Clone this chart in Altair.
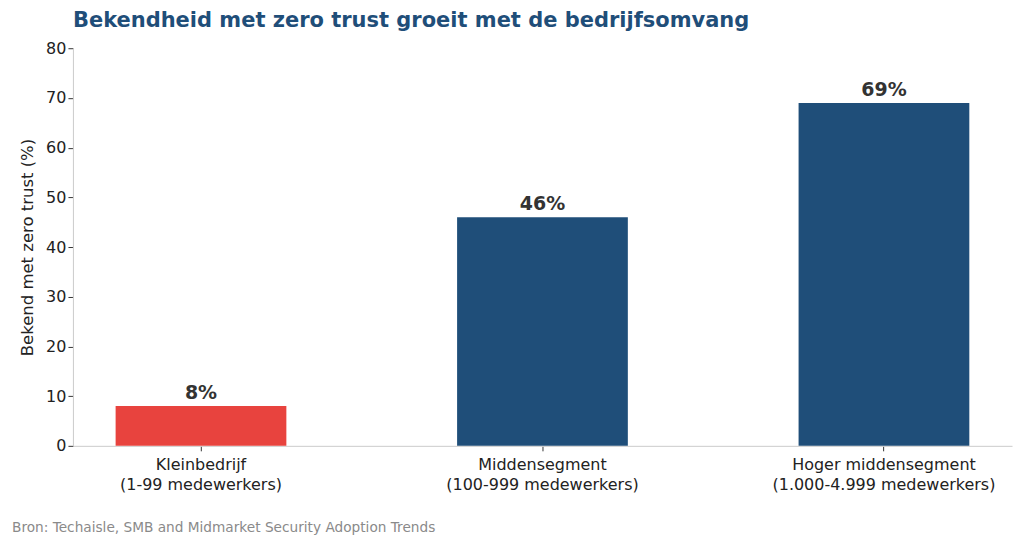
import altair as alt
import pandas as pd

categories = ["Kleinbedrijf|(1-99 medewerkers)",
              "Middensegment|(100-999 medewerkers)",
              "Hoger middensegment|(1.000-4.999 medewerkers)"]
values = [8, 46, 69]
labels = ["8%", "46%", "69%"]
colors = ["#e8433e", "#1f4e79", "#1f4e79"]

df = pd.DataFrame({"cat": categories, "val": values, "lab": labels, "col": colors})

W, H = 940, 398
FONT = "DejaVu Sans"

base = alt.Chart(df).encode(
    x=alt.X("cat:N", sort=categories,
            scale=alt.Scale(paddingInner=0.5, paddingOuter=0.125),
            axis=alt.Axis(title=None, labelAngle=0, labelExpr="split(datum.label, '|')",
                          labelFontSize=16, labelColor="#222", labelFont=FONT,
                          labelLineHeight=20, labelPadding=6,
                          tickColor="#333", tickSize=5, domainColor="#cccccc",
                          labelLimit=400)),
)

bars = base.mark_bar().encode(
    y=alt.Y("val:Q", scale=alt.Scale(domain=[0, 80]),
            axis=alt.Axis(title="Bekend met zero trust (%)", values=list(range(0, 81, 10)),
                          titleFontSize=16.5, titleFont=FONT, titleFontWeight="normal",
                          titleColor="#222", titlePadding=10,
                          labelFontSize=16, labelColor="#222", labelFont=FONT,
                          tickColor="#333", tickSize=5, domainColor="#cccccc", grid=False)),
    color=alt.Color("col:N", scale=None),
)

text = base.mark_text(baseline="bottom", dy=-3, fontSize=19, fontWeight="bold",
                      color="#333333", font=FONT).encode(
    y=alt.Y("val:Q"), text="lab:N")

source = alt.Chart(pd.DataFrame({"t": ["Bron: Techaisle, SMB and Midmarket Security Adoption Trends"]})).mark_text(
    align="left", baseline="middle", fontSize=13.7, color="#8a8a8a", font=FONT
).encode(x=alt.value(-61), y=alt.value(H + 82), text="t:N")

chart = alt.layer(bars, text, source).properties(
    width=W, height=H,
    title=alt.TitleParams("Bekendheid met zero trust groeit met de bedrijfsomvang",
                          anchor="start", frame="group", fontSize=21, font=FONT,
                          fontWeight="bold", color="#1f4e79", offset=9),
    padding={"left": 65, "top": 40, "right": 4, "bottom": 100},
    autosize=alt.AutoSizeParams(type="none"),
).configure(background="white").configure_view(strokeWidth=0, stroke=None)

chart.save("out.html", embed_options={"renderer": "svg", "actions": False})
